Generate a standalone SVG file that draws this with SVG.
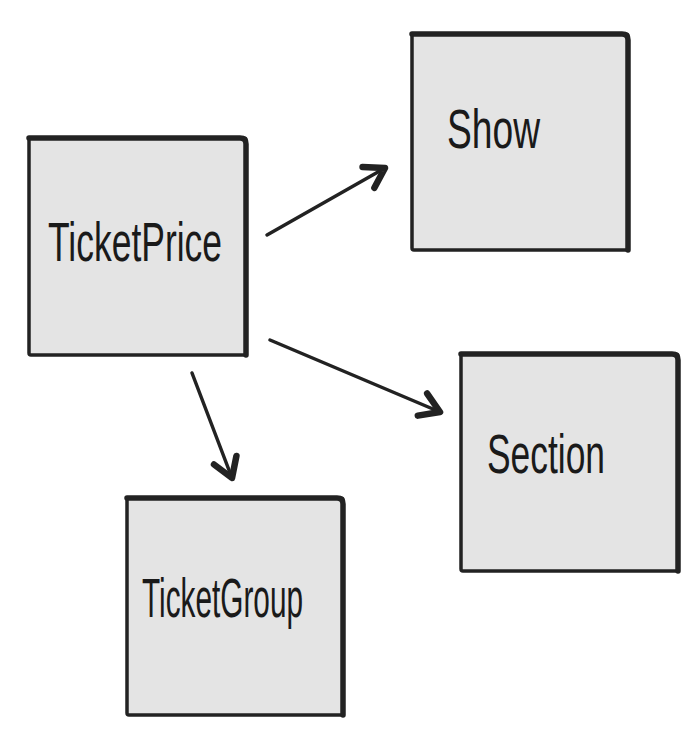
<svg xmlns="http://www.w3.org/2000/svg" width="700" height="733" viewBox="0 0 700 733">
<defs>
<style>
.box{fill:#e4e4e4;stroke:#222;stroke-width:3.5;stroke-linejoin:round}
.edge{stroke:#222;stroke-width:5.5;fill:none;stroke-linecap:round}
.lbl{font-family:"Liberation Sans","DejaVu Sans",sans-serif;font-size:56px;fill:#1a1a1a}
.conn{stroke:#222;stroke-width:3.5;fill:none;stroke-linecap:round}
</style>
<marker id="arr" markerUnits="userSpaceOnUse" viewBox="-30 -20 40 40" markerWidth="40" markerHeight="40" refX="0" refY="0" orient="auto">
<path d="M-19,-12 L0,0 L-19,12" fill="none" stroke="#222" stroke-width="6.5" stroke-linecap="round" stroke-linejoin="round"/>
</marker>
</defs>
<rect width="700" height="733" fill="#fff"/>
<g id="TicketPrice">
<rect class="box" x="29" y="138" width="217" height="217" rx="2"/>
<path class="edge" d="M29,138 L240,138 Q246,138 246,144 L246,355"/>
<text class="lbl" x="48" y="261" textLength="174" lengthAdjust="spacingAndGlyphs">TicketPrice</text>
</g>
<g id="Show">
<rect class="box" x="412" y="34" width="216" height="216" rx="2"/>
<path class="edge" d="M412,34 L622,34 Q628,34 628,40 L628,250"/>
<text class="lbl" x="447" y="148" textLength="93" lengthAdjust="spacingAndGlyphs">Show</text>
</g>
<g id="TicketGroup">
<rect class="box" x="127" y="498" width="216" height="217" rx="2"/>
<path class="edge" d="M127,498 L337,498 Q343,498 343,504 L343,715"/>
<text class="lbl" x="142" y="617" textLength="161" lengthAdjust="spacingAndGlyphs">TicketGroup</text>
</g>
<g id="Section">
<rect class="box" x="461" y="354" width="217" height="217" rx="2"/>
<path class="edge" d="M461,354 L672,354 Q678,354 678,360 L678,571"/>
<text class="lbl" x="487" y="473" textLength="118" lengthAdjust="spacingAndGlyphs">Section</text>
</g>
<g id="connectors">
<line class="conn" x1="267" y1="235" x2="385" y2="168" marker-end="url(#arr)"/>
<line class="conn" x1="270" y1="340" x2="440" y2="412" marker-end="url(#arr)"/>
<line class="conn" x1="192" y1="373" x2="232" y2="478" marker-end="url(#arr)"/>
</g>
</svg>
